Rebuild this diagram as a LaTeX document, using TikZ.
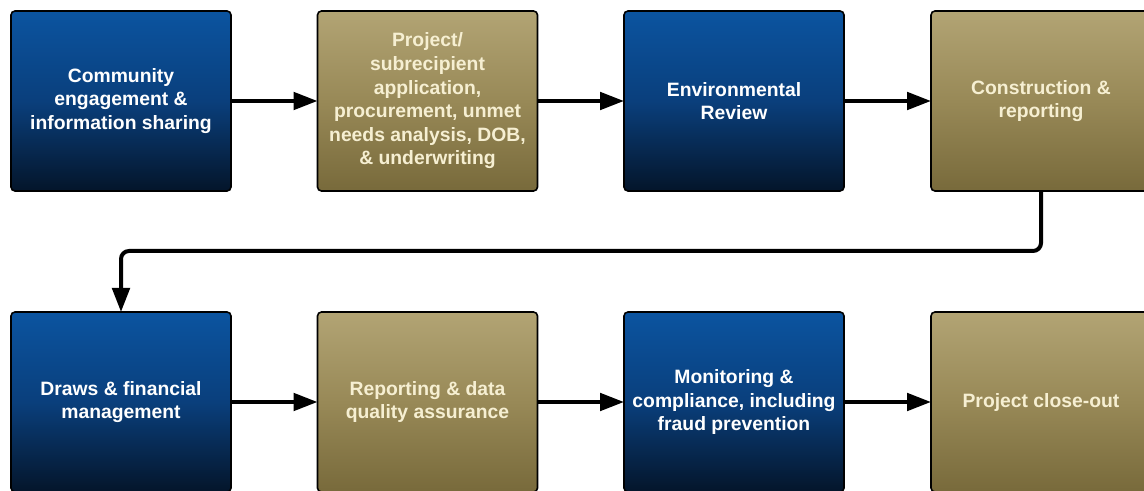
\documentclass[tikz,border=0pt]{standalone}
\usepackage{fontspec}
\setmainfont{Liberation Sans}
\usetikzlibrary{arrows.meta}

\definecolor{bluetop}{HTML}{0B54A0}
\definecolor{bluemid}{HTML}{0A3F7C}
\definecolor{bluebot}{HTML}{04152A}
\definecolor{goldtop}{HTML}{B2A474}
\definecolor{goldmid}{HTML}{988957}
\definecolor{goldbot}{HTML}{786A3B}
\definecolor{goldtext}{HTML}{F6EFD2}

\begin{document}
\begin{tikzpicture}[x=0.75pt,y=0.75pt,>={Triangle[length=18pt,width=13pt]},
  stage/.style={draw=black,line width=1.2pt,rounded corners=3pt,
    minimum width=165pt,minimum height=135pt,inner sep=0pt,outer sep=0pt,
    align=center,font=\bfseries\fontsize{14.5}{17.7}\selectfont},
  bluestage/.style={stage,top color=bluetop,bottom color=bluebot,middle color=bluemid,text=white},
  goldstage/.style={stage,top color=goldtop,bottom color=goldbot,middle color=goldmid,text=goldtext},
  flow/.style={->,line width=3pt,rounded corners=6pt}]
\path[clip] (0,0) rectangle (1144,-491);
\fill[white] (0,0) rectangle (1144,-491);
% top row
\node[bluestage] (engage) at (121,-101) {Community\\engagement \&\\information sharing};
\node[goldstage] (apply) at (427.5,-101) {Project/\\subrecipient\\application,\\procurement, unmet\\needs analysis, DOB,\\\& underwriting};
\node[bluestage] (enviro) at (734,-101) {Environmental\\Review};
\node[goldstage] (build) at (1041,-101) {Construction \&\\reporting};
% bottom row
\node[bluestage] (draws) at (121,-402) {Draws \& financial\\management};
\node[goldstage] (quality) at (427.5,-402) {Reporting \& data\\quality assurance};
\node[bluestage] (monitor) at (734,-402) {Monitoring \&\\compliance, including\\fraud prevention};
\node[goldstage] (closeout) at (1041,-402) {Project close-out};
\coordinate (turn) at (121,-251);
% connectors
\draw[flow] (engage) -- (apply);
\draw[flow] (apply) -- (enviro);
\draw[flow] (enviro) -- (build);
\draw[flow] (build.south) |- (turn) -- (draws.north);
\draw[flow] (draws) -- (quality);
\draw[flow] (quality) -- (monitor);
\draw[flow] (monitor) -- (closeout);
\end{tikzpicture}
\end{document}
